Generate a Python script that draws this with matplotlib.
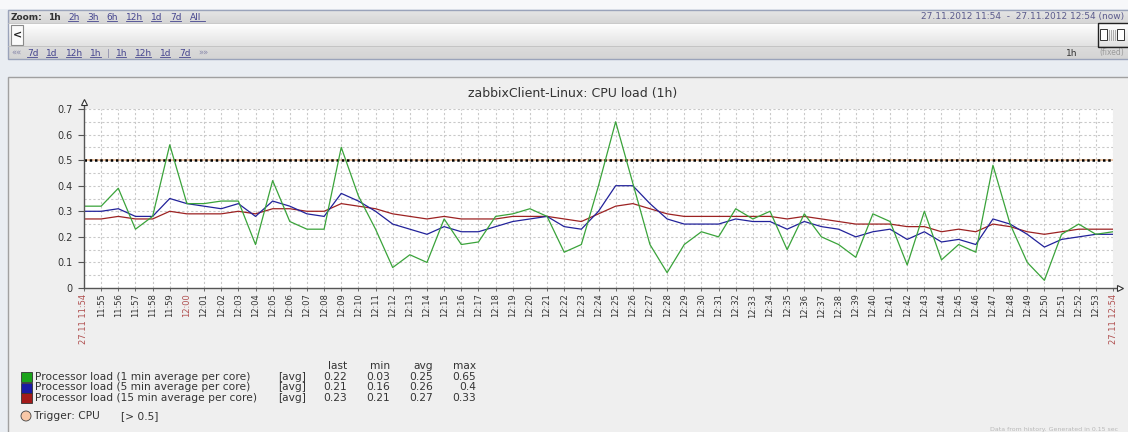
import matplotlib
matplotlib.use("Agg")
import matplotlib.pyplot as plt
from matplotlib.patches import Rectangle, Circle
import numpy as np

# ---- DATA ------------------------------------------------------------------
time_labels = [
    "27.11 11:54", "11:55", "11:56", "11:57", "11:58", "11:59", "12:00",
    "12:01", "12:02", "12:03", "12:04", "12:05", "12:06", "12:07", "12:08",
    "12:09", "12:10", "12:11", "12:12", "12:13", "12:14", "12:15", "12:16",
    "12:17", "12:18", "12:19", "12:20", "12:21", "12:22", "12:23", "12:24",
    "12:25", "12:26", "12:27", "12:28", "12:29", "12:30", "12:31", "12:32",
    "12:33", "12:34", "12:35", "12:36", "12:37", "12:38", "12:39", "12:40",
    "12:41", "12:42", "12:43", "12:44", "12:45", "12:46", "12:47", "12:48",
    "12:49", "12:50", "12:51", "12:52", "12:53", "27.11 12:54",
]
red_labels = ["27.11 11:54", "12:00", "27.11 12:54"]

load_1min = [
    0.32, 0.32, 0.39, 0.23, 0.28, 0.56, 0.33, 0.33, 0.34, 0.34, 0.17,
    0.42, 0.26, 0.23, 0.23, 0.55, 0.36, 0.23, 0.08, 0.13, 0.10, 0.27,
    0.17, 0.18, 0.28, 0.29, 0.31, 0.28, 0.14, 0.17, 0.40, 0.65, 0.41,
    0.17, 0.06, 0.17, 0.22, 0.20, 0.31, 0.27, 0.30, 0.15, 0.29, 0.20,
    0.17, 0.12, 0.29, 0.26, 0.09, 0.30, 0.11, 0.17, 0.14, 0.48, 0.25,
    0.10, 0.03, 0.21, 0.25, 0.21, 0.22,
]
load_5min = [
    0.30, 0.30, 0.31, 0.28, 0.28, 0.35, 0.33, 0.32, 0.31, 0.33, 0.28,
    0.34, 0.32, 0.29, 0.28, 0.37, 0.34, 0.30, 0.25, 0.23, 0.21, 0.24,
    0.22, 0.22, 0.24, 0.26, 0.27, 0.28, 0.24, 0.23, 0.30, 0.40, 0.40,
    0.33, 0.27, 0.25, 0.25, 0.25, 0.27, 0.26, 0.26, 0.23, 0.26, 0.24,
    0.23, 0.20, 0.22, 0.23, 0.19, 0.22, 0.18, 0.19, 0.17, 0.27, 0.25,
    0.21, 0.16, 0.19, 0.20, 0.21, 0.21,
]
load_15min = [
    0.27, 0.27, 0.28, 0.27, 0.27, 0.30, 0.29, 0.29, 0.29, 0.30, 0.29,
    0.31, 0.31, 0.30, 0.30, 0.33, 0.32, 0.31, 0.29, 0.28, 0.27, 0.28,
    0.27, 0.27, 0.27, 0.28, 0.28, 0.28, 0.27, 0.26, 0.29, 0.32, 0.33,
    0.31, 0.29, 0.28, 0.28, 0.28, 0.28, 0.28, 0.28, 0.27, 0.28, 0.27,
    0.26, 0.25, 0.25, 0.25, 0.24, 0.24, 0.22, 0.23, 0.22, 0.25, 0.24,
    0.22, 0.21, 0.22, 0.23, 0.23, 0.23,
]
trigger_value = 0.5

series_names = [
    "Processor load (1 min average per core)",
    "Processor load (5 min average per core)",
    "Processor load (15 min average per core)",
]
stat_last = [0.22, 0.21, 0.23]
stat_min = [0.03, 0.16, 0.21]
stat_avg = [0.25, 0.26, 0.27]
stat_max = [0.65, 0.4, 0.33]

y_ticks = [0, 0.1, 0.2, 0.3, 0.4, 0.5, 0.6, 0.7]
zoom_links = ["2h", "3h", "6h", "12h", "1d", "7d", "All"]
nav_links = ["7d", "1d", "12h", "1h", "1h", "12h", "1d", "7d"]

# ---- STYLE -----------------------------------------------------------------
W, H = 1128, 432
LINE_COLORS = ["#3aa33a", "#22229a", "#9c2222"]
BOX_COLORS = ["#1aa31a", "#1a1aa3", "#a31a1a"]
LINK = "#45458f"
TXT = "#333333"
LEG_FS = 7.7


def px_box(bg, x0, y0, x1, y1, **kw):
    bg.add_patch(Rectangle((x0, y0), x1 - x0, y1 - y0, **kw))


def gradient(bg, x0, y0, x1, y1, c_top, c_bot):
    top = np.array(matplotlib.colors.to_rgb(c_top))
    bot = np.array(matplotlib.colors.to_rgb(c_bot))
    t = np.linspace(0, 1, 64)[:, None]
    img = (top * (1 - t) + bot * t)[:, None, :]
    bg.imshow(img, extent=(x0, x1, y1, y0), aspect="auto", zorder=1,
              interpolation="bilinear")


fig = plt.figure(figsize=(W / 100, H / 100), dpi=100, facecolor="#e9edf2")

# background axes in pixel coordinates (0,0 = top left)
bg = fig.add_axes([0, 0, 1, 1])
bg.set_xlim(0, W)
bg.set_ylim(H, 0)
bg.axis("off")

# --- header (zoom / scroll bar) ---
px_box(bg, 0, 0, W, 9, facecolor="#f7f8fa", edgecolor="none")
gradient(bg, 8, 10, W + 5, 23, "#e6e6e6", "#d6d6d6")
gradient(bg, 8, 23, W + 5, 46, "#ffffff", "#e2e2e2")
gradient(bg, 8, 46, W + 5, 59, "#dcdcdc", "#d4d4d4")
px_box(bg, 8, 10, W + 5, 59, facecolor="none", edgecolor="#9aa3ba", lw=1, zorder=2)
bg.plot([8, W], [23, 23], color="#c0c0c0", lw=0.6, zorder=2)
bg.plot([8, W], [46, 46], color="#c0c0c0", lw=0.6, zorder=2)

bg.text(11, 17, "Zoom:", fontsize=6.5, fontweight="bold", color=TXT, va="center", zorder=3)
bg.text(48, 17, "1h", fontsize=6.5, fontweight="bold", color=TXT, va="center", zorder=3)
x = 68
for lab in zoom_links:
    bg.text(x, 17, lab, fontsize=6.5, color=LINK, va="center", zorder=3)
    bg.plot([x, x + 5.2 * len(lab)], [21, 21], color=LINK, lw=0.6, zorder=3)
    x += 5.2 * len(lab) + 9

bg.text(11, 53, "««", fontsize=6, color="#8888aa", va="center", zorder=3)
x = 27
for i, lab in enumerate(nav_links):
    if i == 4:
        bg.text(x - 3, 53, "|", fontsize=6, color="#8888aa", va="center", zorder=3)
        x += 6
    bg.text(x, 53, lab, fontsize=6.5, color=LINK, va="center", zorder=3)
    bg.plot([x, x + 5.2 * len(lab)], [57, 57], color=LINK, lw=0.6, zorder=3)
    x += 5.2 * len(lab) + 9
bg.text(x, 53, "»»", fontsize=6, color="#8888aa", va="center", zorder=3)

px_box(bg, 11, 25, 23, 45, facecolor="#fbfbfb", edgecolor="#8a8a8a", lw=0.8, zorder=3)
bg.text(17, 35, "<", fontsize=8, fontweight="bold", color="#222222",
        ha="center", va="center", zorder=4)

bg.text(1124, 17, "27.11.2012 11:54  -  27.11.2012 12:54 (now)", fontsize=6.5,
        color="#5a5a8c", ha="right", va="center", zorder=3)
bg.text(1066, 53, "1h", fontsize=6.5, color=TXT, va="center", zorder=3)
bg.text(1124, 53, "(fixed)", fontsize=5.5, color="#9a9a9a", ha="right", va="center", zorder=3)

# scroll handle
px_box(bg, 1098, 23, 1135, 47, facecolor="none", edgecolor="#222222", lw=1, zorder=4)
px_box(bg, 1100, 29, 1107, 40, facecolor="white", edgecolor="#333333", lw=0.7, zorder=4)
px_box(bg, 1117, 29, 1124, 40, facecolor="white", edgecolor="#333333", lw=0.7, zorder=4)
for lx in [1109, 1111, 1113, 1115]:
    bg.plot([lx, lx], [30, 40], color="#aaaaaa", lw=0.7, zorder=4)

# --- graph panel ---
px_box(bg, 8, 77, W + 5, H + 5, facecolor="#efefef", edgecolor="#a0a0a0", lw=1, zorder=1)

bg.text(573, 94, "zabbixClient-Linux: CPU load (1h)", fontsize=9, color="#333333",
        ha="center", va="center", zorder=3)
bg.text(990, 429, "Data from history. Generated in 0.15 sec", fontsize=4.5,
        color="#b8b8b8", va="center", zorder=3)

# --- plot area ---
x0, x1, y_top, y_bot = 84, 1113, 109, 288
ax = fig.add_axes([x0 / W, (H - y_bot) / H, (x1 - x0) / W, (y_bot - y_top) / H])
ax.set_facecolor("white")
ax.set_xlim(0, len(time_labels) - 1)
ax.set_ylim(0, 0.7)
for s in ax.spines.values():
    s.set_visible(False)

xs = np.arange(len(time_labels))
grid_kw = dict(color="#c9c9c9", lw=0.8, linestyle=(0, (2, 2)), zorder=1)
for gy in np.arange(0.05, 0.701, 0.05):
    ax.axhline(gy, **grid_kw)
for gx in xs[1:]:
    ax.axvline(gx, **grid_kw)

ax.axhline(trigger_value, color="#f0c09a", lw=1.2, zorder=2)
ax.axhline(trigger_value, color="black", lw=1.8, linestyle=(0, (1, 1.1)), zorder=3)

for vals, col in zip([load_15min, load_5min, load_1min],
                     [LINE_COLORS[2], LINE_COLORS[1], LINE_COLORS[0]]):
    ax.plot(xs, vals, color=col, lw=0.9, zorder=4)

# axis lines with small open arrows
axis_col = "#555555"
ax.plot([0, 0], [0, 1.035], color=axis_col, lw=1, transform=ax.transAxes, clip_on=False, zorder=5)
ax.plot([0, 1.006], [0, 0], color=axis_col, lw=1, transform=ax.transAxes, clip_on=False, zorder=5)
ax.plot([0], [1.04], marker="^", ms=4, mfc="white", mec="#333333", mew=0.8,
        transform=ax.transAxes, clip_on=False, zorder=6)
ax.plot([1.007], [0], marker=">", ms=4, mfc="white", mec="#333333", mew=0.8,
        transform=ax.transAxes, clip_on=False, zorder=6)

ax.set_yticks(y_ticks)
ax.set_yticklabels([f"{v:g}" for v in y_ticks])
ax.tick_params(axis="y", length=4, width=0.8, color=axis_col, labelsize=7,
               labelcolor="#333333", pad=4)
ax.set_xticks(xs)
ax.set_xticklabels(time_labels, rotation=90, va="top", ha="center")
ax.tick_params(axis="x", length=2, width=0.6, color=axis_col, labelsize=6, pad=2)
for lab in ax.get_xticklabels():
    lab.set_color("#b05050" if lab.get_text() in red_labels else "#333333")

# --- legend table ---
col_right = [347, 390, 433, 476]
for cx, head in zip(col_right, ["last", "min", "avg", "max"]):
    bg.text(cx, 366, head, fontsize=LEG_FS, color=TXT, ha="right", va="center", zorder=3)

row_y = [377, 387.5, 398]
for i, name in enumerate(series_names):
    y = row_y[i]
    px_box(bg, 21, y - 5, 32, y + 5, facecolor=BOX_COLORS[i],
           edgecolor="#333333", lw=0.6, zorder=3)
    bg.text(35, y, name, fontsize=LEG_FS, color=TXT, va="center", zorder=3)
    bg.text(278, y, "[avg]", fontsize=LEG_FS, color=TXT, va="center", zorder=3)
    for cx, v in zip(col_right, [stat_last[i], stat_min[i], stat_avg[i], stat_max[i]]):
        bg.text(cx, y, f"{v:g}", fontsize=LEG_FS, color=TXT, ha="right", va="center", zorder=3)

bg.add_patch(Circle((26, 416), 5, facecolor="#f8c8a8", edgecolor="#444444", lw=0.6, zorder=3))
bg.text(34, 416, "Trigger: CPU", fontsize=LEG_FS, color=TXT, va="center", zorder=3)
bg.text(121, 416, f"[> {trigger_value:g}]", fontsize=LEG_FS, color=TXT, va="center", zorder=3)

fig.savefig("out.png", dpi=100, facecolor=fig.get_facecolor())
